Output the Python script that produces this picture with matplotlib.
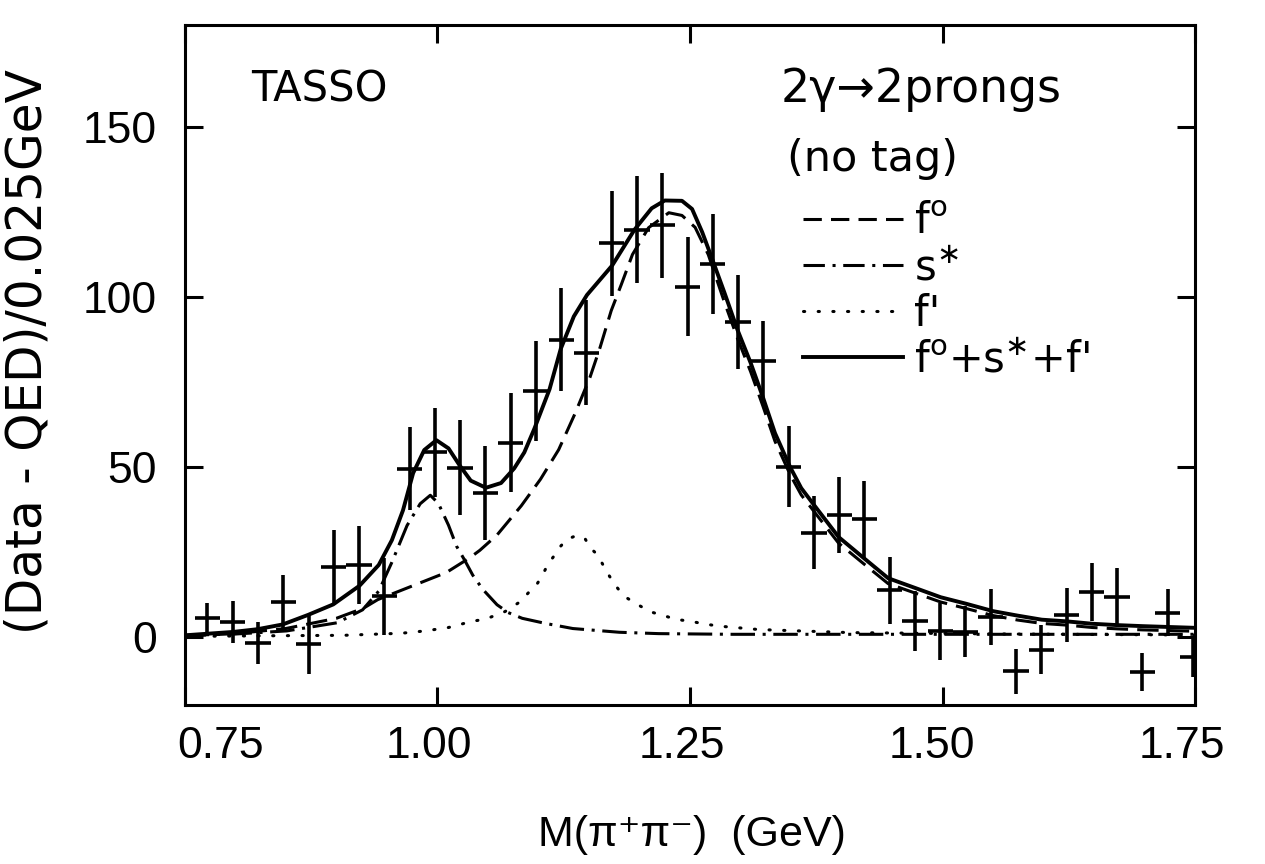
import matplotlib
matplotlib.use("Agg")
import matplotlib.pyplot as plt
from matplotlib.lines import Line2D
from matplotlib.transforms import ScaledTranslation

# ── data (bins of 0.025 GeV) ──────────────────────────────────────────────────
mass = [0.7725, 0.7975, 0.8225, 0.8475, 0.8725, 0.8975, 0.9225, 0.9475,
        0.9725, 0.9975, 1.0225, 1.0475, 1.0725, 1.0975, 1.1225, 1.1475,
        1.1725, 1.1975, 1.2225, 1.2475, 1.2725, 1.2975, 1.3225, 1.3475,
        1.3725, 1.3975, 1.4225, 1.4475, 1.4725, 1.4975, 1.5225, 1.5475,
        1.5725, 1.5975, 1.6225, 1.6475, 1.6725, 1.6975, 1.7225, 1.7475]
counts = [5.5, 4.5, -1.8, 10.4, -2.0, 20.5, 21.2, 12.0, 49.5, 54.3,
          49.8, 42.4, 57.2, 72.4, 87.5, 83.6, 115.8, 119.8, 121.1, 103.1,
          109.7, 92.6, 81.1, 50.1, 30.7, 35.9, 34.6, 13.7, 4.8, 1.7,
          1.6, 5.9, -10.1, -3.7, 6.4, 13.3, 11.8, -10.3, 7.2, -5.8]
errors = [4.5, 6.2, 6.2, 7.8, 8.8, 11.0, 11.6, 11.3, 12.2, 13.2,
          14.0, 13.9, 14.5, 14.7, 15.2, 15.4, 15.4, 15.7, 15.4, 14.7,
          14.7, 13.9, 12.0, 11.9, 10.7, 11.1, 11.3, 9.8, 8.8, 8.4,
          7.6, 8.1, 6.6, 7.3, 7.9, 8.5, 8.4, 5.6, 7.0, 6.0]
half_bin = 0.0125

# fitted curves, sampled by eye from the figure
tot_m = [0.750, 0.798, 0.822, 0.847, 0.872, 0.897, 0.923, 0.942, 0.955, 0.966,
         0.976, 0.987, 0.999, 1.011, 1.022, 1.033, 1.048, 1.063, 1.076, 1.086,
         1.096, 1.111, 1.122, 1.135, 1.148, 1.173, 1.195, 1.212, 1.225, 1.242,
         1.252, 1.262, 1.272, 1.284, 1.297, 1.310, 1.322, 1.334, 1.349, 1.360,
         1.373, 1.397, 1.422, 1.446, 1.473, 1.498, 1.523, 1.550, 1.574, 1.598,
         1.623, 1.648, 1.673, 1.698, 1.750]
tot_y = [0.5, 1.5, 2.3, 3.7, 6.5, 9.6, 15.1, 21.2, 28.5, 37.3,
         48.2, 55.0, 57.9, 55.5, 50.5, 46.0, 43.9, 45.3, 49.6, 54.3,
         61.3, 72.9, 84.7, 94.3, 100.6, 109.3, 119.8, 126.1, 128.4, 128.3,
         125.9, 119.1, 111.1, 101.3, 90.3, 80.6, 70.6, 60.0, 50.0, 43.8,
         38.7, 29.4, 23.2, 17.3, 14.4, 11.7, 9.8, 7.6, 6.3, 5.1,
         4.6, 3.9, 3.5, 3.2, 2.7]

f0_m = [0.750, 0.800, 0.850, 0.900, 0.927, 0.941, 0.975, 1.009, 1.032, 1.042,
        1.059, 1.083, 1.102, 1.120, 1.136, 1.151, 1.161, 1.172, 1.182, 1.193,
        1.209, 1.229, 1.242, 1.255, 1.268, 1.284, 1.297, 1.310, 1.322, 1.334,
        1.349, 1.360, 1.373, 1.397, 1.422, 1.446, 1.473, 1.498, 1.523, 1.550,
        1.574, 1.598, 1.623, 1.648, 1.673, 1.698, 1.750]
f0_y = [0.3, 1.0, 2.5, 5.5, 8.5, 11.0, 15.0, 19.0, 23.3, 25.5,
        30.0, 38.6, 46.4, 55.1, 65.6, 76.4, 85.2, 96.0, 103.7, 112.5,
        120.4, 124.8, 124.0, 120.5, 112.5, 98.5, 87.8, 78.0, 68.0, 57.6,
        47.8, 41.8, 36.8, 27.6, 21.5, 15.7, 12.9, 10.3, 8.4, 6.3,
        5.0, 4.0, 3.5, 2.8, 2.4, 2.1, 1.7]

s_m = [0.750, 0.801, 0.851, 0.901, 0.926, 0.942, 0.955, 0.970, 0.983, 0.993,
       1.001, 1.011, 1.019, 1.027, 1.035, 1.045, 1.059, 1.070, 1.084, 1.107,
       1.134, 1.180, 1.219, 1.292, 1.750]
s_y = [0.5, 0.9, 1.8, 4.2, 8.0, 13.5, 22.0, 32.8, 39.2, 41.7,
       39.3, 32.9, 26.7, 22.6, 18.2, 14.0, 9.5, 7.2, 5.5, 4.0,
       2.5, 1.4, 1.0, 0.8, 0.8]

fp_m = [0.750, 0.800, 0.850, 0.907, 0.935, 0.964, 0.988, 1.011, 1.034, 1.048,
        1.067, 1.082, 1.090, 1.098, 1.104, 1.109, 1.116, 1.121, 1.128, 1.138,
        1.146, 1.151, 1.157, 1.163, 1.168, 1.174, 1.180, 1.188, 1.199, 1.211,
        1.224, 1.236, 1.251, 1.265, 1.279, 1.318, 1.408, 1.557, 1.750]
fp_y = [0.2, 0.3, 0.4, 0.5, 0.8, 1.1, 1.8, 2.8, 4.6, 5.3,
        7.5, 10.4, 13.0, 15.3, 18.2, 21.2, 24.1, 26.4, 28.7, 29.9,
        29.0, 26.3, 24.6, 21.7, 19.0, 16.1, 13.7, 11.4, 9.4, 7.4,
        6.3, 5.2, 4.6, 3.8, 3.2, 2.2, 1.3, 0.9, 0.6]

x_ticks = [0.75, 1.00, 1.25, 1.50, 1.75]
x_ticklabels = ["0.75", "1.00", "1.25", "1.50", "1.75"]
y_ticks = [0, 50, 100, 150]

# ── style ─────────────────────────────────────────────────────────────────────
INK = "black"
LW = 2.2
plt.rcParams.update({
    "font.family": ["DejaVu Sans"],
    "mathtext.fontset": "dejavusans",
    "mathtext.default": "regular",
    "axes.linewidth": LW,
})
NARROW = ["Liberation Sans", "DejaVu Sans"]

fig = plt.figure(figsize=(12.65, 8.64), dpi=100, facecolor="white")
ax = fig.add_axes([0.146, 0.184, 0.799, 0.787])

ax.errorbar(mass, counts, yerr=errors, xerr=half_bin, fmt="none",
            ecolor=INK, elinewidth=2.6, capsize=0)

ax.plot(f0_m, f0_y, color=INK, lw=LW, linestyle=(0, (7, 3)))
ax.plot(s_m, s_y, color=INK, lw=LW, linestyle=(0, (8, 2.5, 1, 2.5)))
ax.plot(fp_m, fp_y, color=INK, lw=LW, linestyle=(0, (0.4, 4.4)),
        dash_capstyle="round")
ax.plot(tot_m, tot_y, color=INK, lw=2.8)

ax.set_xlim(0.75, 1.75)
ax.set_ylim(-20, 180)
ax.set_xticks(x_ticks)
ax.set_xticklabels(x_ticklabels)
ax.set_yticks(y_ticks)
ax.tick_params(direction="in", length=13, width=LW, top=True, right=True,
               labelsize=32, colors=INK)
ax.tick_params(axis="y", pad=20)
ax.tick_params(axis="x", pad=15)
for lab in ax.get_xticklabels() + ax.get_yticklabels():
    lab.set_family(NARROW)

# x tick labels sit slightly off their ticks in the original
shifts = [26, -6, -6, -8, -10]
for lab, dx in zip(ax.get_xticklabels(), shifts):
    lab.set_transform(lab.get_transform() + ScaledTranslation(dx / 72, 0, fig.dpi_scale_trans))

# ── annotations ───────────────────────────────────────────────────────────────
ax.text(0.883, 161, "TASSO", fontsize=30, ha="center", va="center")
ax.text(1.340, 161, "2γ→2prongs", fontsize=33, ha="left", va="center")
ax.text(1.346, 140.5, "(no tag)", fontsize=31, ha="left", va="center")

handles = [
    Line2D([], [], color=INK, lw=LW, linestyle=(0, (6, 3))),
    Line2D([], [], color=INK, lw=LW, linestyle=(0, (7, 2.5, 1, 2.5))),
    Line2D([], [], color=INK, lw=LW, linestyle=(0, (0.4, 4.4)), dash_capstyle="round"),
    Line2D([], [], color=INK, lw=2.8),
]
labels = [r"f$^{o}$", r"s$^{\ast}$", "f'", r"f$^{o}$+s$^{\ast}$+f'"]
ax.legend(handles, labels, loc="upper left", bbox_to_anchor=(0.612, 0.742),
          frameon=False, fontsize=30, handlelength=2.4, handletextpad=0.25,
          labelspacing=0.1, borderpad=0, borderaxespad=0)

fig.text(0.022, 1 - 352 / 864, "(Data - QED)/0.025GeV", rotation=90,
         fontsize=35, ha="center", va="center")
fig.text(692 / 1265, 1 - 835 / 864, "M(π⁺π⁻)  (GeV)", family=NARROW,
         fontsize=31, ha="center", va="center")

fig.savefig("out.png", dpi=100, facecolor="white")
